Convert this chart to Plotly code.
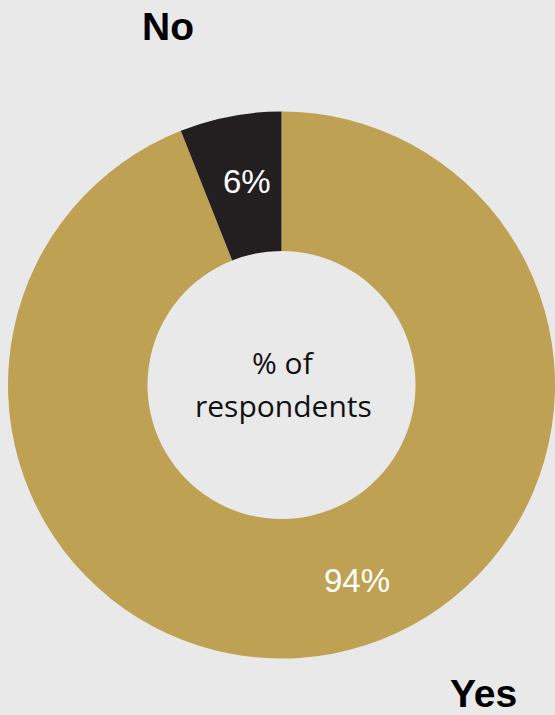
import plotly.graph_objects as go

labels = ["Yes", "No"]
values = [94, 6]
colors = ["#BFA153", "#231F20"]
center_lines = ["% of", "respondents"]

W, H = 555, 715
fig = go.Figure()
fig.add_trace(go.Pie(
    labels=labels, values=values, sort=False, direction="clockwise", rotation=0,
    hole=0.49, marker=dict(colors=colors, line=dict(width=0)),
    textinfo="none",
    domain=dict(x=[8/W, 1], y=[55/H, 605/H]),
    showlegend=False, hoverinfo="label+value",
))

def ann(x, y, text, font):
    fig.add_annotation(x=x/W, y=1-y/H, xref="paper", yref="paper", text=text,
                       showarrow=False, font=font, xanchor="center", yanchor="middle")

pct_font = dict(family="Liberation Sans, Arial", size=33, color="white")
ann(247, 181, f"{values[1]}%", pct_font)
ann(357, 580, f"{values[0]}%", pct_font)
lab_font = dict(family="Liberation Sans, Arial", size=39, color="#000000")
ann(168, 27, f"<b>{labels[1]}</b>", lab_font)
ann(483, 693, f"<b>{labels[0]}</b>", lab_font)
c_font = dict(family="Open Sans, Noto Sans", size=30, color="#111111")
ann(283, 362, center_lines[0], c_font)
ann(283, 405, center_lines[1], c_font)

fig.update_layout(width=W, height=H, margin=dict(l=0, r=0, t=0, b=0),
                  paper_bgcolor="#E9E9E9", plot_bgcolor="#E9E9E9")
fig.write_html("out.html", config={"displayModeBar": False},
               post_script="document.body.style.margin='0';document.body.style.background='#E9E9E9';document.body.style.overflow='hidden';")
